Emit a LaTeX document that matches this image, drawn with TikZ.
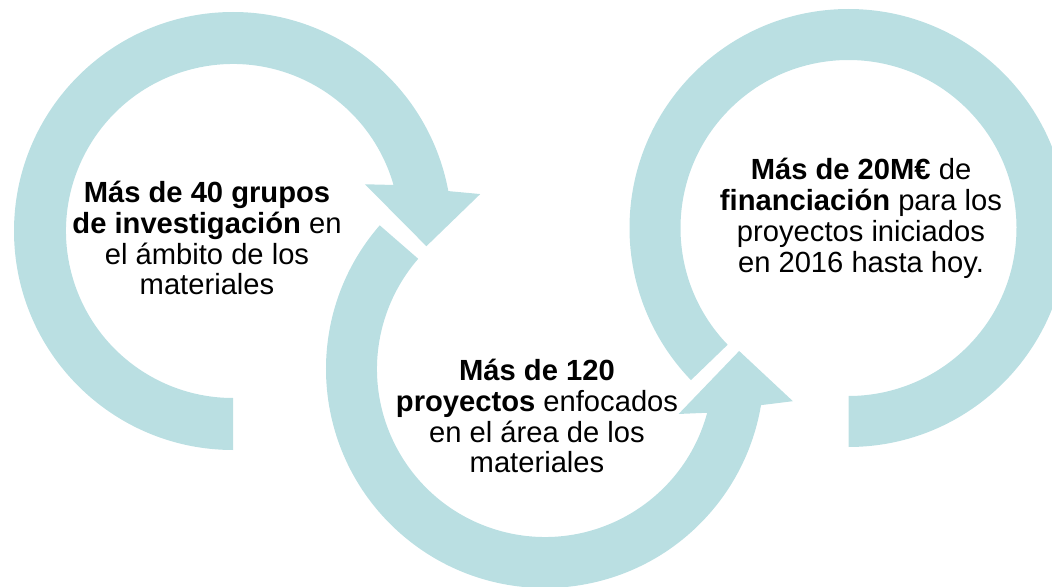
\documentclass[tikz,border=0pt]{standalone}
\usepackage{fontspec}
\setmainfont{Liberation Sans}
\usetikzlibrary{calc,positioning}
\definecolor{ringblue}{RGB}{186,223,226}
\tikzset{ring/.style={fill=ringblue,draw=none},
  lbl/.style={align=center,inner sep=0pt,font=\fontsize{16.6}{17.6}\selectfont}}

\begin{document}
\begin{tikzpicture}[x=0.02cm,y=0.02cm]
\useasboundingbox (0,0) rectangle (1052,586);
\clip (0,0) rectangle (1052,586);
\coordinate (c1) at (233,355);
\coordinate (c2) at (545,217);
\coordinate (c3) at (848.5,358);
\fill[ring] ($(c1)+(270:219)$) arc[start angle=270,end angle=10.5,radius=219]
  -- ($(c1)+(8.5:250)$) -- ($(c1)+(-4.5:194)$) -- ($(c1)+(19.5:140)$)
  -- ($(c1)+(16:167)$) arc[start angle=16,end angle=270,radius=167] -- cycle;
\fill[ring] ($(c2)+(139:219)$) arc[start angle=139,end angle=350.5,radius=219]
  -- ($(c2)+(352.6:250)$) -- ($(c2)+(5.3:195)$) -- ($(c2)+(341.4:141)$)
  -- ($(c2)+(344.9:168)$) arc[start angle=344.9,end angle=139,radius=168] -- cycle;
\fill[ring] ($(c3)+(270:219)$) arc[start angle=-90,end angle=224,radius=219]
  -- ($(c3)+(224:168)$) arc[start angle=224,end angle=-90,radius=168] -- cycle;
\node[lbl] (grupos) at (207,348) {\textbf{Más de 40 grupos}\\\textbf{de investigación} en\\el ámbito de los\\materiales};
\node[lbl] (proyectos) at (537,170) {\textbf{Más de 120}\\\textbf{proyectos} enfocados\\en el área de los\\materiales};
\node[lbl] (financ) at (861,368) {\textbf{Más de 20M€} de\\\textbf{financiación} para los\\proyectos iniciados\\en 2016 hasta hoy.};
\end{tikzpicture}
\end{document}
